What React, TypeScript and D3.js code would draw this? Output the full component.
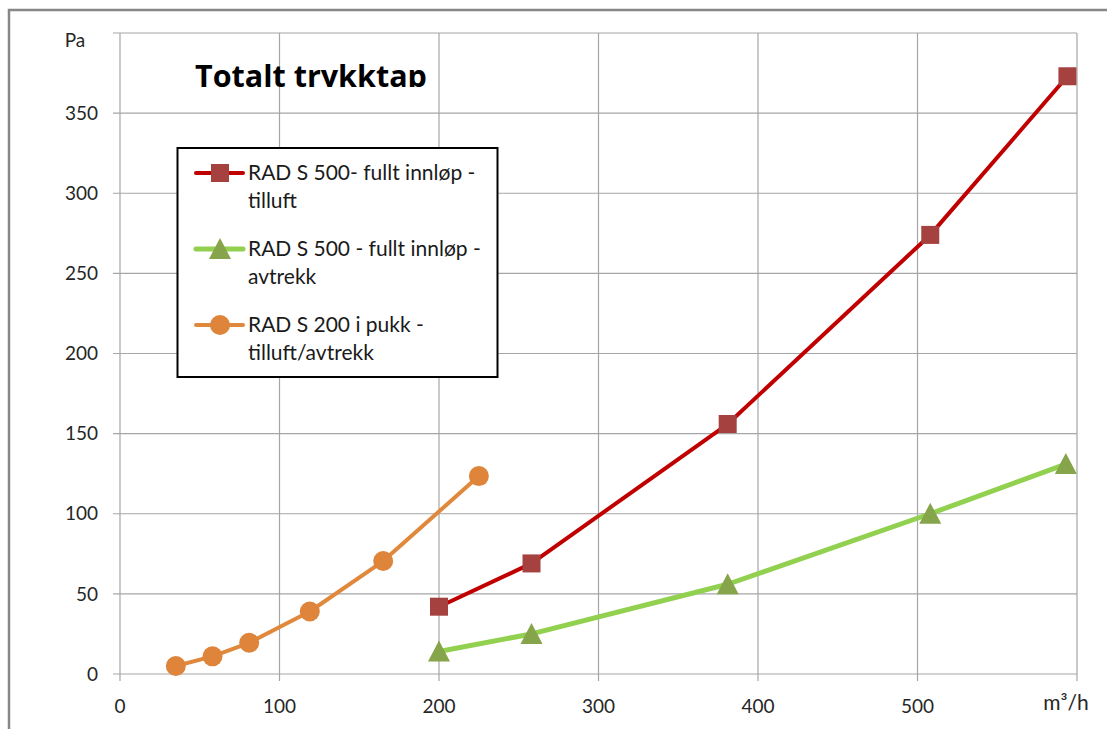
import React from "react";
import * as d3 from "d3";

const xTicks = [0, 100, 200, 300, 400, 500];
const xGrid = [0, 100, 200, 300, 400, 500, 600];
const yTicks = [0, 50, 100, 150, 200, 250, 300, 350];
const yGrid = [0, 50, 100, 150, 200, 250, 300, 350, 400];

const tilluftX = [200, 258, 381, 508, 594];
const tilluftY = [42, 69, 156, 274, 373];
const avtrekkX = [200, 258, 381, 508, 593];
const avtrekkY = [14, 25, 56, 100, 131];
const pukkX = [35, 58, 81, 119, 165, 225];
const pukkY = [5, 11, 19.5, 39, 70.5, 123.5];

const legendLabels = [
  ["RAD S 500- fullt innløp -", "tilluft"],
  ["RAD S 500 - fullt innløp -", "avtrekk"],
  ["RAD S 200 i pukk -", "tilluft/avtrekk"],
];

const FONT = "Lato, 'Open Sans', sans-serif";
const GRID = "#a6a6a6";

type Kind = "square" | "triangle" | "circle";

function Marker({ kind, cx, cy, fill }: { kind: Kind; cx: number; cy: number; fill: string }) {
  if (kind === "square") {
    const s = 18;
    return <rect x={cx - s / 2} y={cy - s / 2} width={s} height={s} fill={fill} />;
  }
  if (kind === "triangle") {
    const w = 22, h = 20;
    return (
      <path
        d={`M${cx},${cy - h / 2 - 1}L${cx + w / 2},${cy + h / 2}L${cx - w / 2},${cy + h / 2}Z`}
        fill={fill}
      />
    );
  }
  return <circle cx={cx} cy={cy} r={10} fill={fill} />;
}

export default function App() {
  const x = d3.scaleLinear().domain([0, 600]).range([120, 1077]);
  const y = d3.scaleLinear().domain([0, 400]).range([674, 33]);

  const line = d3
    .line<[number, number]>()
    .x((d) => x(d[0]))
    .y((d) => y(d[1]))
    .curve(d3.curveLinear);

  const series = [
    { xs: tilluftX, ys: tilluftY, stroke: "#c00000", fill: "#a5413f", kind: "square" as Kind, w: 4 },
    { xs: avtrekkX, ys: avtrekkY, stroke: "#92d050", fill: "#86a44a", kind: "triangle" as Kind, w: 5 },
    { xs: pukkX, ys: pukkY, stroke: "#e0883c", fill: "#de853b", kind: "circle" as Kind, w: 4 },
  ];

  const legendRows = [173, 249, 325];

  return (
    <svg
      width={1107}
      height={729}
      style={{ position: "absolute", left: 0, top: 0, background: "#fff" }}
      fontFamily={FONT}
    >
      <defs>
        <clipPath id="titleClip">
          <rect x={0} y={0} width={1107} height={87} />
        </clipPath>
      </defs>
      {/* outer chart border */}
      <path d="M9,740V10H1120" fill="none" stroke="#878787" strokeWidth={2.5} />

      {/* grid */}
      {yGrid.map((v) => (
        <line key={"gy" + v} x1={113} x2={1077} y1={y(v)} y2={y(v)} stroke={GRID} strokeWidth={1.2} />
      ))}
      {xGrid.map((v) => (
        <line key={"gx" + v} x1={x(v)} x2={x(v)} y1={33} y2={681} stroke={GRID} strokeWidth={1.2} />
      ))}

      {/* tick labels */}
      {yTicks.map((v) => (
        <text key={"ty" + v} x={98} y={y(v)} dy="0.35em" textAnchor="end" fontSize={19} fill="#262626">
          {v}
        </text>
      ))}
      {xTicks.map((v) => (
        <text key={"tx" + v} x={x(v)} y={706} dy="0.35em" textAnchor="middle" fontSize={19} fill="#262626">
          {v}
        </text>
      ))}
      <text x={75} y={40} dy="0.35em" textAnchor="middle" fontSize={19} fill="#262626">
        Pa
      </text>
      <text x={1066} y={703} dy="0.35em" textAnchor="middle" fontSize={21} fill="#262626">
        m³/h
      </text>

      {/* title */}
      <text
        x={195}
        y={87}
        fontSize={30.5}
        fontWeight="bold"
        fontFamily="'Open Sans', Lato, sans-serif"
        fill="#000"
        clipPath="url(#titleClip)"
      >
        Totalt trykktap
      </text>

      {/* series */}
      {series.map((s, i) => {
        const pts = s.xs.map((xv, j) => [xv, s.ys[j]] as [number, number]);
        return (
          <g key={"s" + i}>
            <path d={line(pts) || ""} fill="none" stroke={s.stroke} strokeWidth={s.w} strokeLinejoin="round" />
            {pts.map((p, j) => (
              <Marker key={j} kind={s.kind} cx={x(p[0])} cy={y(p[1])} fill={s.fill} />
            ))}
          </g>
        );
      })}

      {/* legend */}
      <rect x={177.5} y={148} width={320} height={229} fill="#fff" stroke="#000" strokeWidth={2} />
      {series.map((s, i) => {
        const cy = legendRows[i];
        return (
          <g key={"lg" + i}>
            <line x1={196} x2={243} y1={cy} y2={cy} stroke={s.stroke} strokeWidth={s.w} strokeLinecap="round" />
            <Marker kind={s.kind} cx={220} cy={cy} fill={s.fill} />
            <text x={248} y={cy} dy="0.35em" fontSize={21} fill="#1a1a1a">
              {legendLabels[i][0]}
            </text>
            <text x={248} y={cy + 28} dy="0.35em" fontSize={21} fill="#1a1a1a">
              {legendLabels[i][1]}
            </text>
          </g>
        );
      })}
    </svg>
  );
}
